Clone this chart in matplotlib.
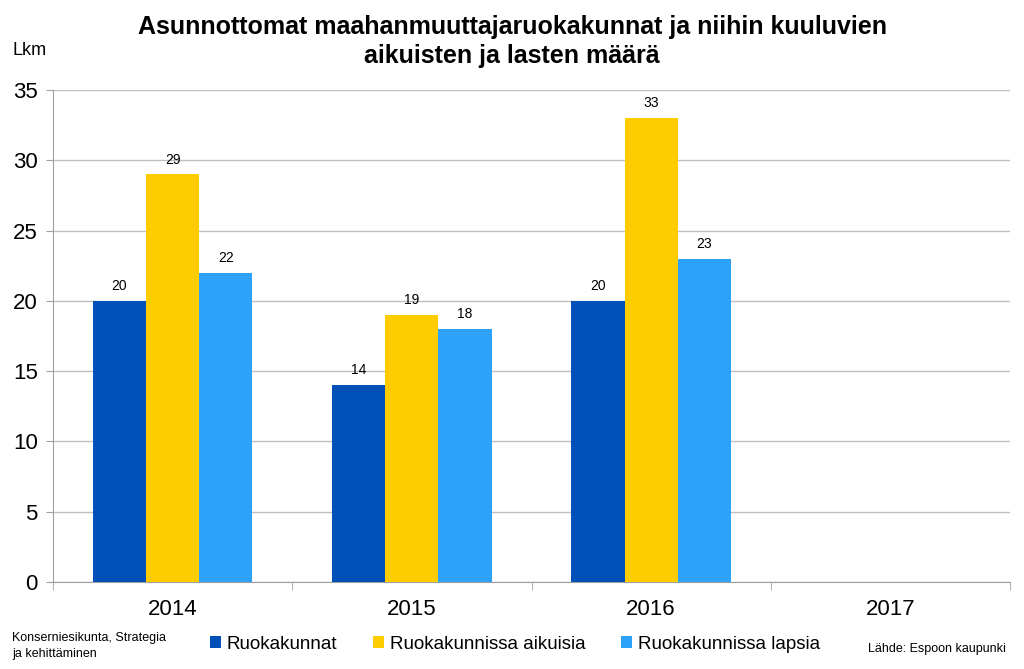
import numpy as np
import matplotlib.pyplot as plt

plt.rcParams['font.family'] = ['Liberation Sans', 'DejaVu Sans']

vuodet = ['2014', '2015', '2016', '2017']
ruokakunnat = [20, 14, 20, None]
aikuisia = [29, 19, 33, None]
lapsia = [22, 18, 23, None]

sarjat = [
    ('Ruokakunnat', ruokakunnat, '#0050B8'),
    ('Ruokakunnissa aikuisia', aikuisia, '#FFCC00'),
    ('Ruokakunnissa lapsia', lapsia, '#2EA2F8'),
]

fig = plt.figure(figsize=(10.24, 6.69), dpi=100)
ax = fig.add_axes([0.0518, 0.130, 0.9345, 0.7355])

x = np.arange(len(vuodet))
w = 0.222
for i, (nimi, arvot, vari) in enumerate(sarjat):
    pos = [xx + (i - 1) * w for xx, v in zip(x, arvot) if v is not None]
    vals = [v for v in arvot if v is not None]
    bars = ax.bar(pos, vals, width=w, color=vari, label=nimi, zorder=3)
    for b, v in zip(bars, vals):
        ax.text(b.get_x() + b.get_width() / 2, v + 0.55, str(v),
                ha='center', va='bottom', fontsize=10)

ax.set_xlim(-0.5, len(vuodet) - 0.5)
ax.set_ylim(0, 35)
ax.set_yticks(range(0, 36, 5))
ax.yaxis.grid(True, color='#BFBFBF', linewidth=1, zorder=0)
ax.set_xticks(x)
ax.set_xticklabels(vuodet, fontsize=16)
ax.set_xticks(np.arange(-0.5, len(vuodet), 1), minor=True)
ax.tick_params(axis='x', which='major', length=0, pad=12)
ax.tick_params(axis='x', which='minor', length=6, color='#A0A0A0')
ax.tick_params(axis='y', labelsize=16, length=5, color='#A0A0A0', pad=6)

for s in ['top', 'right']:
    ax.spines[s].set_visible(False)
for s in ['left', 'bottom']:
    ax.spines[s].set_color('#A0A0A0')

fig.text(0.5, 0.978, 'Asunnottomat maahanmuuttajaruokakunnat ja niihin kuuluvien\naikuisten ja lasten määrä',
         ha='center', va='top', fontsize=18, fontweight='bold', linespacing=1.3)
fig.text(0.012, 0.925, 'Lkm', ha='left', va='center', fontsize=13)

fig.legend(loc='center', bbox_to_anchor=(0.503, 0.037), ncol=3, frameon=False,
           fontsize=13.5, handlelength=0.6, handleheight=0.6, handletextpad=0.3,
           columnspacing=1.9)

fig.text(0.012, 0.035, 'Konserniesikunta, Strategia\nja kehittäminen',
         ha='left', va='center', fontsize=9, linespacing=1.45)
fig.text(0.982, 0.03, 'Lähde: Espoon kaupunki', ha='right', va='center', fontsize=9)

fig.savefig('out.png', dpi=100)
